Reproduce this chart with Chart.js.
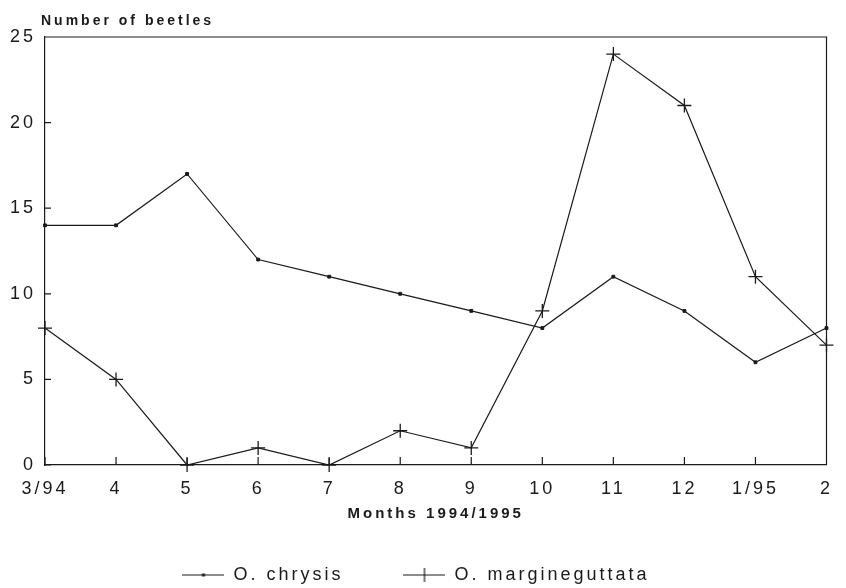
<!DOCTYPE html>
<html>
<head>
<meta charset="utf-8">
<script src="https://cdn.jsdelivr.net/npm/chart.js@4.4.0/dist/chart.umd.min.js"></script>
<style>
  html, body { margin: 0; padding: 0; background: #fff; }
  canvas { display: block; }
</style>
</head>
<body>
<canvas id="chart" width="846" height="588"></canvas>
<script>
const months = ['3/94', '4', '5', '6', '7', '8', '9', '10', '11', '12', '1/95', '2'];
const chrysis = [14, 14, 17, 12, 11, 10, 9, 8, 11, 9, 6, 8];
const margineguttata = [8, 5, 0, 1, 0, 2, 1, 9, 24, 21, 11, 7];
const seriesNames = ['O. chrysis', 'O. margineguttata'];
const yTitle = 'Number of beetles';
const xTitle = 'Months 1994/1995';

const ink = '#1a1a1a';
Chart.defaults.font.family = '"Liberation Sans", Arial, sans-serif';
Chart.defaults.color = ink;

// small line+marker pictures for the legend
function legendIcon(kind) {
  const c = document.createElement('canvas');
  c.width = 42; c.height = 16;
  const g = c.getContext('2d');
  g.strokeStyle = ink; g.fillStyle = ink; g.lineWidth = 1.2;
  g.beginPath(); g.moveTo(0, 8); g.lineTo(42, 8); g.stroke();
  if (kind === 'dot') {
    g.fillRect(19.5, 6.5, 3, 3);
  } else {
    g.beginPath(); g.moveTo(21, 1); g.lineTo(21, 15); g.stroke();
  }
  return c;
}
const icons = [legendIcon('dot'), legendIcon('plus')];

// wide letter spacing like the typewriter-ish original
const spacing = {
  id: 'spacing',
  beforeUpdate(chart) { chart.ctx.letterSpacing = '3px'; },
  beforeDraw(chart) { chart.ctx.letterSpacing = '3px'; }
};

// box, inward ticks and the y title on top
const frame = {
  id: 'frame',
  afterDraw(chart) {
    const { ctx, chartArea: a, scales: { x, y } } = chart;
    ctx.save();
    ctx.strokeStyle = ink;
    ctx.lineWidth = 1.2;
    ctx.beginPath();
    ctx.moveTo(a.left, a.top); ctx.lineTo(a.right, a.top); ctx.lineTo(a.right, a.bottom);
    x.ticks.forEach((t, i) => {
      const px = x.getPixelForTick(i);
      ctx.moveTo(px, a.bottom); ctx.lineTo(px, a.bottom - 8);
    });
    y.ticks.forEach((t, i) => {
      const py = y.getPixelForTick(i);
      ctx.moveTo(a.left, py); ctx.lineTo(a.left + 6, py);
    });
    ctx.stroke();
    ctx.font = 'bold 14px "Liberation Sans", Arial, sans-serif';
    ctx.fillStyle = ink;
    ctx.letterSpacing = '3px';
    ctx.textAlign = 'left';
    ctx.textBaseline = 'alphabetic';
    ctx.fillText(yTitle, a.left - 4, 25);
    ctx.restore();
  }
};

new Chart(document.getElementById('chart'), {
  type: 'line',
  data: {
    labels: months,
    datasets: [{
      label: seriesNames[0],
      data: chrysis,
      borderColor: ink,
      backgroundColor: ink,
      borderWidth: 1.2,
      pointStyle: 'rect',
      pointRadius: 2,
      pointBorderWidth: 1,
      tension: 0,
      clip: 10
    }, {
      label: seriesNames[1],
      data: margineguttata,
      borderColor: ink,
      backgroundColor: ink,
      borderWidth: 1.2,
      pointStyle: 'cross',
      pointRadius: 7,
      pointBorderWidth: 1.3,
      tension: 0,
      clip: 10
    }]
  },
  options: {
    responsive: false,
    animation: false,
    layout: { padding: { top: 37, right: 14, bottom: -6, left: 0 } },
    plugins: {
      tooltip: { enabled: false },
      legend: {
        position: 'bottom',
        labels: {
          usePointStyle: true,
          pointStyleWidth: 42,
          boxHeight: 16,
          padding: 60,
          font: { size: 18 },
          color: ink,
          generateLabels: chart => Chart.defaults.plugins.legend.labels.generateLabels(chart)
            .map((l, i) => ({ ...l, pointStyle: icons[i] }))
        }
      }
    },
    scales: {
      x: {
        type: 'category',
        offset: false,
        grid: { display: false, drawTicks: false },
        border: { display: true, color: ink, width: 1.2 },
        ticks: { font: { size: 18 }, padding: 13, autoSkip: false, maxRotation: 0, color: ink },
        title: {
          display: true,
          text: xTitle,
          font: { size: 15, weight: 'bold' },
          color: ink,
          padding: { top: 0, bottom: -17 }
        },
        afterFit(s) { s.height = 41; }
      },
      y: {
        min: 0,
        max: 25,
        grid: { display: false, drawTicks: false },
        border: { display: true, color: ink, width: 1.2 },
        ticks: { stepSize: 5, font: { size: 18 }, padding: 9, color: ink },
        afterFit(s) { s.width = 45; }
      }
    }
  },
  plugins: [spacing, frame]
});
</script>
</body>
</html>
